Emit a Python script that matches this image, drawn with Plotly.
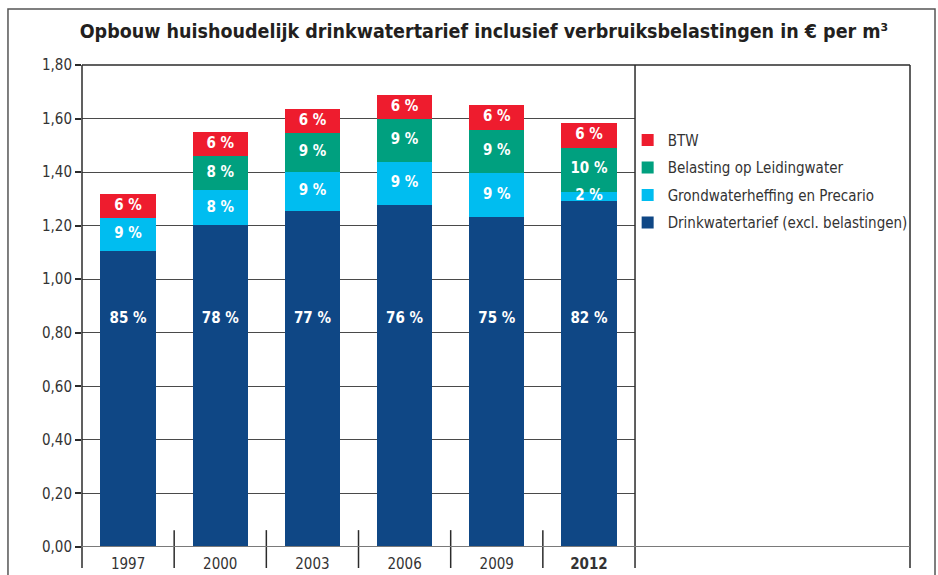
import plotly.graph_objects as go

# ---- data ----
years = ["1997", "2000", "2003", "2006", "2009", "2012"]
year_labels = ["1997", "2000", "2003", "2006", "2009", "<b>2012</b>"]
drinkwater = [1.106, 1.201, 1.254, 1.278, 1.233, 1.293]
grondwater = [0.122, 0.131, 0.146, 0.160, 0.162, 0.034]
belasting = [0.0, 0.128, 0.145, 0.159, 0.164, 0.164]
btw = [0.090, 0.088, 0.090, 0.092, 0.091, 0.091]
drink_pct = ["85 %", "78 %", "77 %", "76 %", "75 %", "82 %"]
grond_pct = ["9 %", "8 %", "9 %", "9 %", "9 %", "2 %"]
bel_pct = ["", "8 %", "9 %", "9 %", "9 %", "10 %"]
btw_pct = ["6 %", "6 %", "6 %", "6 %", "6 %", "6 %"]
y_ticks = [0.0, 0.2, 0.4, 0.6, 0.8, 1.0, 1.2, 1.4, 1.6, 1.8]
drink_label_level = 0.85

FONT = "Liberation Sans Narrow, DejaVu Sans Condensed, Roboto, sans-serif"
C_DRINK = "#0f4785"
C_GROND = "#00bdf0"
C_BEL = "#00a07f"
C_BTW = "#ee1c2e"

x_idx = list(range(len(years)))

fig = go.Figure()

def add_bar(name, vals, color, rank):
    fig.add_trace(go.Bar(
        x=x_idx, y=vals, name=name, marker=dict(color=color, line=dict(width=0)),
        width=0.6, legendgroup=name, legendrank=rank, hoverinfo="skip",
    ))

add_bar("Drinkwatertarief (excl. belastingen)", drinkwater, C_DRINK, 4)
add_bar("Grondwaterheffing en Precario", grondwater, C_GROND, 3)
add_bar("Belasting op Leidingwater", belasting, C_BEL, 2)
add_bar("BTW", btw, C_BTW, 1)

# segment labels (centres from cumulative stacks), drawn above all bars
base_g = drinkwater
base_b = [d + g for d, g in zip(drinkwater, grondwater)]
base_t = [b0 + b for b0, b in zip(base_b, belasting)]
label_sets = [
    ([drink_label_level] * len(years), drink_pct),
    ([b0 + v / 2 for b0, v in zip(base_g, grondwater)], grond_pct),
    ([b0 + v / 2 for b0, v in zip(base_b, belasting)], bel_pct),
    ([b0 + v / 2 for b0, v in zip(base_t, btw)], btw_pct),
]
for ys, txt in label_sets:
    fig.add_trace(go.Scatter(
        x=x_idx, y=ys, mode="text", text=txt, textposition="middle center",
        textfont=dict(family=FONT, size=15, color="white", weight="bold"),
        showlegend=False, hoverinfo="skip", cliponaxis=False,
    ))

split = 0.6679  # end of data area within the plot box

line_dark = dict(color="#2b2b2b", width=1.5)
shapes = []
shapes.append(dict(type="rect", xref="paper", yref="paper", x0=-0.0894, x1=1.0302,
                   y0=-0.08, y1=1.116, line=dict(color="#555", width=1.5)))
shapes.append(dict(type="line", xref="paper", yref="paper", x0=0, x1=1, y0=1, y1=1, line=line_dark))
for xp in [0, split, 1]:
    shapes.append(dict(type="line", xref="paper", yref="paper", x0=xp, x1=xp,
                       y0=-0.0436, y1=1, line=line_dark))
for k in range(len(years) - 1):
    shapes.append(dict(type="line", xref="x", yref="paper", x0=k + 0.5, x1=k + 0.5,
                       y0=-0.0436, y1=0.035, line=line_dark))
shapes.append(dict(type="line", xref="paper", yref="y", x0=0, x1=1, y0=0, y1=0,
                   line=dict(color="#7a7a7a", width=2.2)))

fig.update_layout(
    width=938, height=575,
    margin=dict(l=82, r=28, t=65, b=28, autoexpand=False),
    paper_bgcolor="white", plot_bgcolor="white",
    barmode="stack", bargap=0.4,
    separators=",.",
    font=dict(family=FONT, size=15, color="#333"),
    title=dict(text="<b>Opbouw huishoudelijk drinkwatertarief inclusief verbruiksbelastingen in € per m³</b>",
               xref="container", x=0.516, xanchor="center", y=0.946, yanchor="middle",
               font=dict(family=FONT, size=19.5, color="#231f20")),
    xaxis=dict(domain=[0, split], type="linear", range=[-0.5, 5.5], automargin=False,
               tickmode="array", tickvals=x_idx, ticktext=year_labels,
               showgrid=False, zeroline=False, showline=False, ticks="",
               ticklabelstandoff=6,
               tickfont=dict(family=FONT, size=15, color="#333")),
    yaxis=dict(range=[0, 1.8], tickmode="array", tickvals=y_ticks, tickformat=".2f",
               automargin=False,
               showgrid=True, gridcolor="#4a4a4a", gridwidth=1.4,
               zeroline=False, showline=False,
               ticks="outside", ticklen=6, tickwidth=1.5, tickcolor="#2b2b2b",
               tickfont=dict(family=FONT, size=15, color="#333")),
    legend=dict(x=0.659, y=0.878, xanchor="left", yanchor="top",
                traceorder="grouped", tracegroupgap=5,
                font=dict(family=FONT, size=15, color="#333"),
                bgcolor="rgba(0,0,0,0)"),
    shapes=shapes,
)

fig.write_html("out.html", config={"displayModeBar": False},
               post_script="document.body.style.margin='0';document.body.style.overflow='hidden';")
